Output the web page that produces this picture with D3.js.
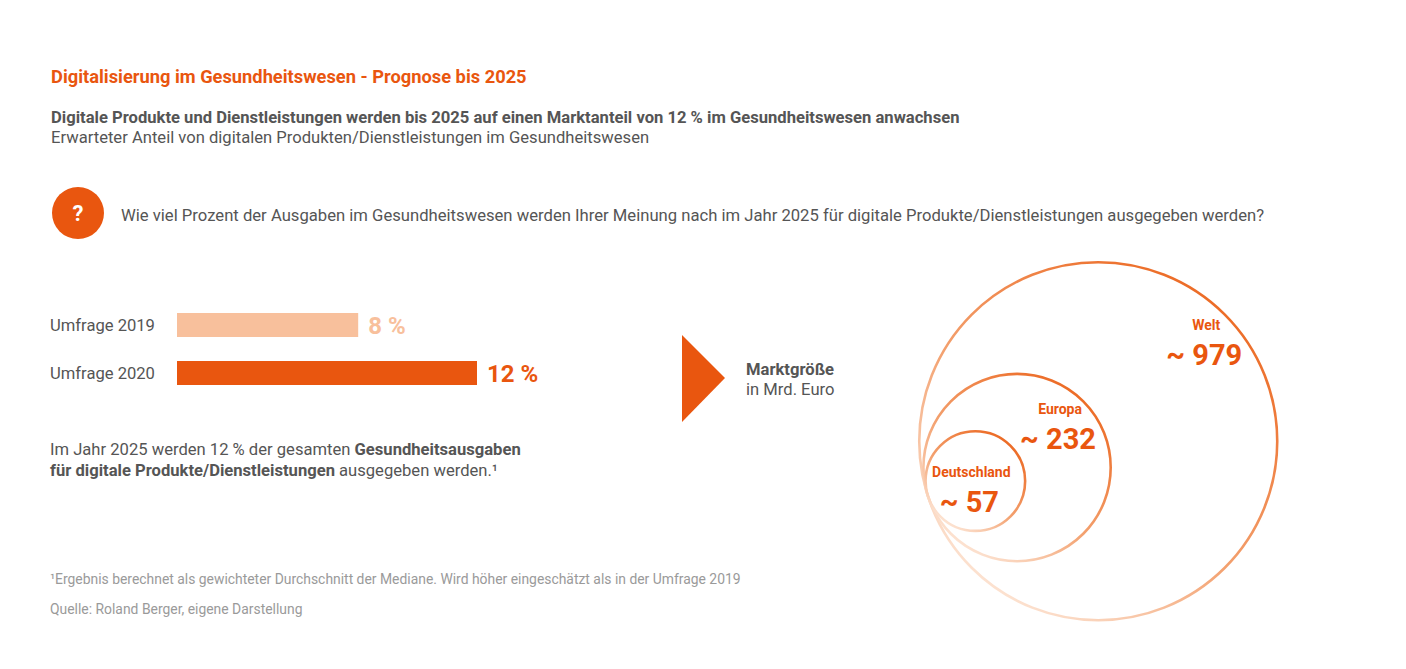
<!DOCTYPE html>
<html>
<head>
<meta charset="utf-8">
<script src="https://cdn.jsdelivr.net/npm/d3@7"></script>
<style>
  body { margin: 0; background: #fff; }
  svg { display: block; font-family: Roboto, "Noto Sans", sans-serif; }
</style>
</head>
<body>
<svg id="chart" width="1406" height="669"></svg>
<script>
// survey bars
var surveys = ["Umfrage 2019", "Umfrage 2020"];
var shares = [8, 12];
var shareLabels = ["8 %", "12 %"];

// market size circles (bn Euro)
var regions = ["Welt", "Europa", "Deutschland"];
var marketSize = [979, 232, 57];
var marketLabels = ["~ 979", "~ 232", "~ 57"];

var orange = "#e9560f";
var lightOrange = "#f8c09c";
var textGrey = "#555";
var noteGrey = "#9a9a9a";

var svg = d3.select("#chart");

// header
svg.append("text").attr("x", 51).attr("y", 83)
  .attr("fill", orange).attr("font-size", 18.3).attr("font-weight", 700)
  .text("Digitalisierung im Gesundheitswesen - Prognose bis 2025");
svg.append("text").attr("x", 51).attr("y", 123)
  .attr("fill", textGrey).attr("font-size", 16.6).attr("font-weight", 700)
  .text("Digitale Produkte und Dienstleistungen werden bis 2025 auf einen Marktanteil von 12 % im Gesundheitswesen anwachsen");
svg.append("text").attr("x", 51).attr("y", 143)
  .attr("fill", textGrey).attr("font-size", 16.6)
  .text("Erwarteter Anteil von digitalen Produkten/Dienstleistungen im Gesundheitswesen");

// question
svg.append("circle").attr("cx", 78).attr("cy", 213).attr("r", 26).attr("fill", orange);
svg.append("text").attr("x", 78).attr("y", 221).attr("text-anchor", "middle")
  .attr("fill", "#fff").attr("font-size", 22).attr("font-weight", 700).text("?");
svg.append("text").attr("x", 121).attr("y", 221)
  .attr("fill", textGrey).attr("font-size", 16.65)
  .text("Wie viel Prozent der Ausgaben im Gesundheitswesen werden Ihrer Meinung nach im Jahr 2025 für digitale Produkte/Dienstleistungen ausgegeben werden?");

// bar chart
var x = d3.scaleLinear().domain([1.9, 12]).range([0, 300]);
var y = d3.scaleBand().domain(surveys).range([301, 397]).paddingInner(0.5).paddingOuter(0.25);
var barColors = d3.scaleOrdinal().domain(surveys).range([lightOrange, orange]);

var bars = svg.append("g").attr("transform", "translate(177,0)");
bars.selectAll("rect").data(surveys).join("rect")
  .attr("x", 0)
  .attr("y", d => y(d))
  .attr("width", (d, i) => x(shares[i]))
  .attr("height", y.bandwidth())
  .attr("fill", d => barColors(d));
bars.selectAll("text.val").data(surveys).join("text")
  .attr("class", "val")
  .attr("x", (d, i) => x(shares[i]) + 10)
  .attr("y", d => y(d) + y.bandwidth() / 2 + 8.5)
  .attr("fill", d => barColors(d))
  .attr("font-size", 24).attr("font-weight", 700)
  .text((d, i) => shareLabels[i]);
svg.selectAll("text.cat").data(surveys).join("text")
  .attr("class", "cat")
  .attr("x", 50)
  .attr("y", d => y(d) + y.bandwidth() / 2 + 5.5)
  .attr("fill", textGrey).attr("font-size", 16.6)
  .text(d => d);

// note below bars
var note1 = svg.append("text").attr("x", 50).attr("y", 455)
  .attr("fill", textGrey).attr("font-size", 16.6);
note1.append("tspan").text("Im Jahr 2025 werden 12 % der gesamten ");
note1.append("tspan").attr("font-weight", 700).text("Gesundheitsausgaben");
var note2 = svg.append("text").attr("x", 50).attr("y", 476)
  .attr("fill", textGrey).attr("font-size", 16.6);
note2.append("tspan").attr("font-weight", 700).text("für digitale Produkte/Dienstleistungen");
note2.append("tspan").text(" ausgegeben werden.¹");

// footnotes
svg.append("text").attr("x", 50).attr("y", 584)
  .attr("fill", noteGrey).attr("font-size", 13.9)
  .text("¹Ergebnis berechnet als gewichteter Durchschnitt der Mediane. Wird höher eingeschätzt als in der Umfrage 2019");
svg.append("text").attr("x", 50).attr("y", 614)
  .attr("fill", noteGrey).attr("font-size", 13.9)
  .text("Quelle: Roland Berger, eigene Darstellung");

// arrow
svg.append("path")
  .attr("d", d3.line()([[682, 335], [725, 378], [682, 422]]) + "Z")
  .attr("fill", orange);
svg.append("text").attr("x", 746).attr("y", 375)
  .attr("fill", textGrey).attr("font-size", 16.6).attr("font-weight", 700).text("Marktgröße");
svg.append("text").attr("x", 746).attr("y", 395)
  .attr("fill", textGrey).attr("font-size", 16.6).text("in Mrd. Euro");

// circles sharing one tangent point
var r = d3.scalePow().exponent(0.45).domain([0, 979]).range([0, 179]);
var tangent = [928, 496.5];
var ang = -18 * Math.PI / 180;
var ux = Math.cos(ang), uy = Math.sin(ang);
var labelOffset = [[108, -111], [43, -54], [-4, -4]];

var defs = svg.append("defs");
regions.forEach((d, i) => {
  var g = defs.append("linearGradient").attr("id", "grad" + i)
    .attr("x1", 0.85).attr("y1", 0.1).attr("x2", 0.2).attr("y2", 0.95);
  g.append("stop").attr("offset", 0).attr("stop-color", "#ec6a24");
  g.append("stop").attr("offset", 0.55).attr("stop-color", "#f3a06e");
  g.append("stop").attr("offset", 1).attr("stop-color", "#fde7d8");
});

var bubbles = svg.append("g");
regions.forEach((d, i) => {
  var rr = r(marketSize[i]);
  var cx = tangent[0] + ux * rr, cy = tangent[1] + uy * rr;
  bubbles.append("circle")
    .attr("cx", cx).attr("cy", cy).attr("r", rr)
    .attr("fill", "none")
    .attr("stroke", "url(#grad" + i + ")")
    .attr("stroke-width", 2.6);
  var lx = cx + labelOffset[i][0], ly = cy + labelOffset[i][1];
  bubbles.append("text").attr("x", lx).attr("y", ly)
    .attr("text-anchor", "middle").attr("fill", orange)
    .attr("font-size", 14).attr("font-weight", 700).text(d);
  bubbles.append("text").attr("x", lx - 2).attr("y", ly + 35)
    .attr("text-anchor", "middle").attr("fill", orange)
    .attr("font-size", 29).attr("font-weight", 700).text(marketLabels[i]);
});
</script>
</body>
</html>
